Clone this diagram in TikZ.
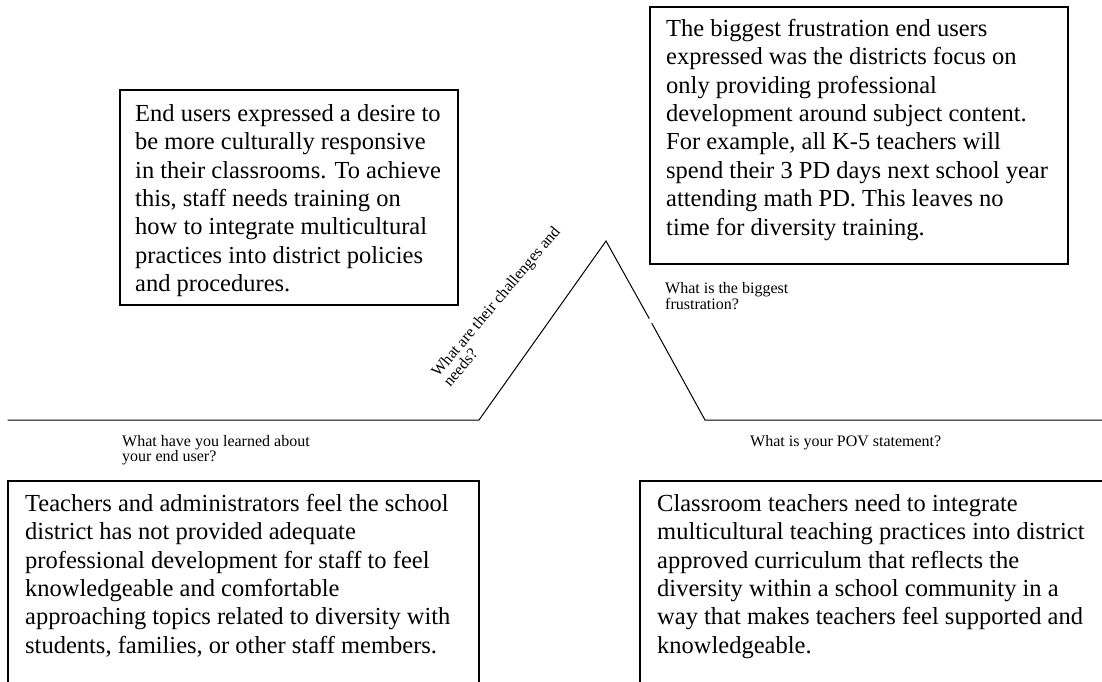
\documentclass[tikz,border=0pt]{standalone}
\usepackage{fontspec}
\setmainfont{Liberation Serif}
% body text of the four boxes and the small question labels
\newcommand\bodyfont{\fontsize{24.5}{28.4}\selectfont\lineskiplimit=-100pt\relax}
\newcommand\notefont{\fontsize{16}{15.5}\selectfont\lineskiplimit=-100pt\relax}
\newcommand\firstbody{\rule{0pt}{20pt}}
\newcommand\firstnote{\rule{0pt}{12pt}}
\begin{document}
\begin{tikzpicture}[x=1pt,y=-1pt,
  frame/.style={draw, line width=1.6pt, inner sep=0pt, anchor=north west},
  para/.style={anchor=north west, inner sep=0pt, align=left, font=\bodyfont},
  note/.style={anchor=north west, inner sep=0pt, align=left, font=\notefont},
  ridge/.style={line width=1pt, line cap=butt}]
\useasboundingbox (0,0) rectangle (1102,682);
\clip (0,0) rectangle (1102,682);

% the ridge: flat, up to the peak, down, flat again
\coordinate (west) at (7.5,420);
\coordinate (footL) at (479,420);
\coordinate (apex) at (606,241);
\coordinate (gapA) at (649.3,318.7);
\coordinate (gapB) at (651.8,323.3);
\coordinate (footR) at (705,420);
\coordinate (east) at (1102,420);
\draw[ridge] (west) -- (footL) -- (apex) -- (gapA);
\draw[ridge] (gapB) -- (footR) -- (east);

% boxes
\node[frame, minimum width=338pt, minimum height=215pt] (needsbox) at (119,89) {};
\node[frame, minimum width=418pt, minimum height=257pt] (frustbox) at (649,6) {};
\node[frame, minimum width=471pt, minimum height=230pt] (learnbox) at (7,480) {};
\node[frame, minimum width=480pt, minimum height=230pt] (povbox) at (639,480) {};

% box texts
\node[para] (needstext) at (135,101) {\firstbody End users expressed a desire to\\
be more culturally responsive\\
in their classrooms. To achieve\\
this, staff needs training on\\
how to integrate multicultural\\
practices into district policies\\
and procedures.};

\node[para] (frusttext) at (666,16) {\firstbody The biggest frustration end users\\
expressed was the districts focus on\\
only providing professional\\
development around subject content.\\
For example, all K-5 teachers will\\
spend their 3 PD days next school year\\
attending math PD. This leaves no\\
time for diversity training.};

\node[para] (learntext) at (25,491) {\firstbody Teachers and administrators feel the school\\
district has not provided adequate\\
professional development for staff to feel\\
knowledgeable and comfortable\\
approaching topics related to diversity with\\
students, families, or other staff members.};

\node[para] (povtext) at (657,491) {\firstbody Classroom teachers need to integrate\\
multicultural teaching practices into district\\
approved curriculum that reflects the\\
diversity within a school community in a\\
way that makes teachers feel supported and\\
knowledgeable.};

% question labels
\node[note] (learnq) at (122,434) {\firstnote What have you learned about\\your end user?};
\node[note] (povq) at (750,434) {\firstnote What is your POV statement?};
\node[note] (frustq) at (665,281.5) {\firstnote What is the biggest\\frustration?};
\node[note, rotate=50] (needsq) at (429,370) {\firstnote What are their challenges and\\needs?};
\end{tikzpicture}
\end{document}
